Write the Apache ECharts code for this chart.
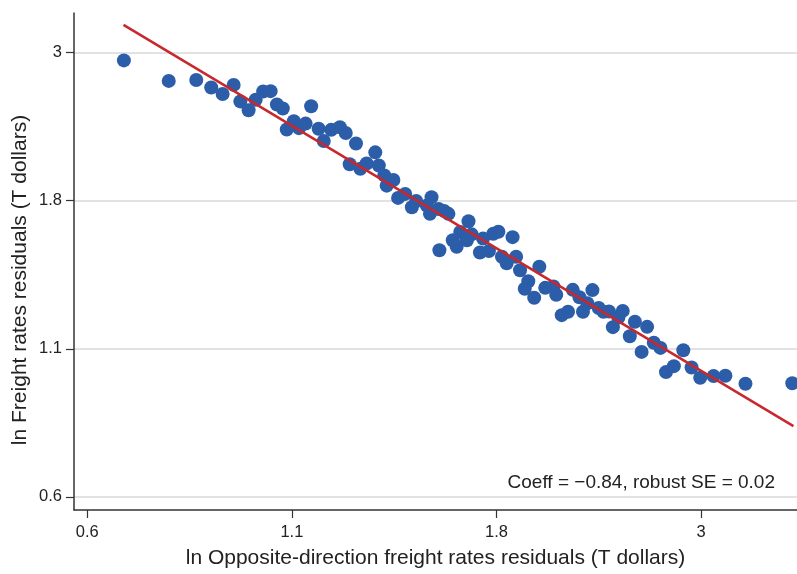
<!DOCTYPE html>
<html><head><meta charset="utf-8">
<script src="https://cdn.jsdelivr.net/npm/echarts@6/dist/echarts.min.js"></script>
<style>html,body{margin:0;padding:0;background:#fff}#c{width:797px;height:574px}</style>
</head><body><div id="c"></div>
<script>
// Axis ticks (ln units) and their displayed labels
const xTickValues = [-0.45, 0.07, 0.59, 1.11];
const xTickLabels = ['0.6', '1.1', '1.8', '3'];
const yTickValues = [-0.45, 0.07, 0.59, 1.11];
const yTickLabels = ['0.6', '1.1', '1.8', '3'];

// Binned scatter points (ln units)
const xValues = [-0.357, -0.243, -0.173, -0.135, -0.106, -0.078, -0.061, -0.040, -0.022, -0.003,
  0.016, 0.032, 0.047, 0.119, 0.057, 0.075, 0.088, 0.105, 0.138, 0.151,
  0.170, 0.192, 0.207, 0.233, 0.217, 0.244, 0.260, 0.282, 0.291, 0.305,
  0.311, 0.328, 0.340, 0.358, 0.375, 0.386, 0.413, 0.421, 0.425, 0.443,
  0.457, 0.468, 0.519, 0.445, 0.479, 0.498, 0.489, 0.515, 0.527, 0.548,
  0.556, 0.571, 0.582, 0.595, 0.631, 0.604, 0.616, 0.640, 0.650, 0.671,
  0.662, 0.686, 0.699, 0.714, 0.735, 0.742, 0.756, 0.772, 0.784, 0.801,
  0.810, 0.821, 0.834, 0.850, 0.862, 0.876, 0.886, 0.900, 0.911, 0.929,
  0.942, 0.959, 0.973, 0.990, 1.007, 1.021, 1.041, 1.065, 1.086, 1.108,
  1.142, 1.172, 1.223, 1.342];
const yValues = [1.083, 1.011, 1.014, 0.988, 0.965, 0.997, 0.939, 0.908, 0.945, 0.974,
  0.975, 0.928, 0.914, 0.922, 0.840, 0.869, 0.845, 0.861, 0.843, 0.800,
  0.839, 0.848, 0.828, 0.791, 0.718, 0.702, 0.721, 0.760, 0.714, 0.679,
  0.643, 0.663, 0.600, 0.614, 0.567, 0.589, 0.573, 0.544, 0.602, 0.561,
  0.554, 0.544, 0.518, 0.416, 0.451, 0.480, 0.428, 0.451, 0.472, 0.408,
  0.457, 0.413, 0.474, 0.481, 0.462, 0.393, 0.370, 0.393, 0.346, 0.307,
  0.281, 0.249, 0.358, 0.284, 0.289, 0.260, 0.188, 0.200, 0.277, 0.251,
  0.200, 0.230, 0.276, 0.213, 0.200, 0.201, 0.146, 0.180, 0.203, 0.114,
  0.165, 0.059, 0.147, 0.091, 0.073, -0.012, 0.009, 0.065, 0.004, -0.032,
  -0.026, -0.025, -0.053, -0.051];

// Fitted line endpoints (ln units)
const fitX = [-0.358, 1.345];
const fitY = [1.208, -0.202];

const annotation = 'Coeff = \u22120.84, robust SE = 0.02';
const xTitle = 'ln Opposite-direction freight rates residuals (T dollars)';
const yTitle = 'ln Freight rates residuals (T dollars)';

function lookup(vals, labels) {
  return function (v) {
    for (let i = 0; i < vals.length; i++) if (Math.abs(vals[i] - v) < 1e-6) return labels[i];
    return '';
  };
}

const points = xValues.map((x, i) => [x, yValues[i]]);
const fitData = fitX.map((x, i) => [x, fitY[i]]);
const font = '"Liberation Sans", Arial, Helvetica, sans-serif';
const textColor = '#222';

const chart = echarts.init(document.getElementById('c'), null, {renderer: 'canvas'});
chart.setOption({
  animation: false,
  backgroundColor: '#fff',
  grid: {left: 74, right: 0, top: 13, bottom: 61, containLabel: false},
  xAxis: {
    type: 'value',
    min: -0.4838, max: 1.354,
    name: xTitle,
    nameLocation: 'middle',
    nameGap: 38,
    nameTextStyle: {fontFamily: font, fontSize: 21, color: textColor},
    axisLine: {show: true, onZero: false, lineStyle: {color: '#333', width: 1.5}},
    axisTick: {show: true, length: 8, customValues: xTickValues, lineStyle: {color: '#333', width: 1.2}},
    axisLabel: {customValues: xTickValues, formatter: lookup(xTickValues, xTickLabels), margin: 14,
      fontFamily: font, fontSize: 16.5, color: textColor},
    splitLine: {show: false}
  },
  yAxis: {
    type: 'value',
    min: -0.4964, max: 1.2495,
    axisLine: {show: true, onZero: false, lineStyle: {color: '#333', width: 1.5}},
    axisTick: {show: true, length: 8, customValues: yTickValues, lineStyle: {color: '#333', width: 1.2}},
    axisLabel: {customValues: yTickValues, formatter: lookup(yTickValues, yTickLabels), margin: 12,
      fontFamily: font, fontSize: 16.5, color: textColor},
    splitLine: {show: true, lineStyle: {color: '#d9d9d9', width: 1.5}}
  },
  graphic: [
    {type: 'text', x: 20, y: 280, rotation: Math.PI / 2,
      style: {text: yTitle, fontFamily: font, fontSize: 21, fill: textColor, align: 'center', verticalAlign: 'middle'}},
    {type: 'text', x: 775, y: 483,
      style: {text: annotation, fontFamily: font, fontSize: 19, fill: textColor, align: 'right', verticalAlign: 'middle'}}
  ],
  series: [
    {type: 'scatter', data: points, symbolSize: 14, itemStyle: {color: '#2c5da8', opacity: 1}, z: 2},
    {type: 'line', data: fitData, showSymbol: false, symbol: 'none',
      lineStyle: {color: '#c8282d', width: 2.5}, z: 3}
  ]
});
</script>
</body></html>
